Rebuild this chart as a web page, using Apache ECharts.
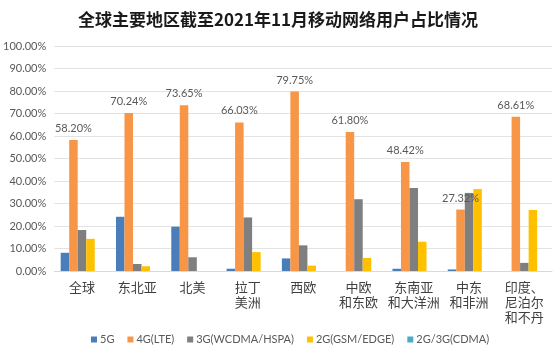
<!DOCTYPE html>
<html>
<head>
<meta charset="utf-8">
<script src="https://cdn.jsdelivr.net/npm/echarts@6/dist/echarts.min.js"></script>
<style>html,body{margin:0;padding:0;background:#fff;}#c{width:556px;height:357px;}</style>
</head>
<body>
<div id="c"></div>
<script>
const categories = ['全球','东北亚','北美','拉丁\n美洲','西欧','中欧\n和东欧','东南亚\n和大洋洲','中东\n和非洲','印度、\n尼泊尔\n和不丹'];
const seriesNames = ['5G','4G(LTE)','3G(WCDMA/HSPA)','2G(GSM/EDGE)','2G/3G(CDMA)'];
const v5G   = [8.1, 24.1, 19.7, 1.0, 5.6, 0, 1.0, 0.7, 0];
const v4G   = [58.20, 70.24, 73.65, 66.03, 79.75, 61.80, 48.42, 27.32, 68.61];
const v3G   = [18.2, 3.1, 6.1, 23.8, 11.4, 31.9, 36.9, 34.7, 3.6];
const v2G   = [14.3, 2.1, 0, 8.4, 2.4, 5.8, 13.0, 36.4, 27.1];
const vCDMA = [0, 0, 0, 0, 0, 0, 0, 0, 0];
const yTicks = [0, 10, 20, 30, 40, 50, 60, 70, 80, 90, 100];

const colors = ['#4a7ebb', '#f79646', '#7f7f7f', '#ffc000', '#4bacc6'];
const allValues = [v5G, v4G, v3G, v2G, vCDMA];

const chart = echarts.init(document.getElementById('c'), null, {renderer: 'canvas'});
chart.setOption({
  animation: false,
  color: colors,
  title: {
    text: '全球主要地区截至2021年11月移动网络用户占比情况',
    left: 'center',
    top: 6,
    textStyle: {fontFamily: 'Noto Sans CJK SC', fontSize: 17, fontWeight: 'bold', color: '#1a1a1a'}
  },
  legend: {
    bottom: 7,
    left: 86,
    itemWidth: 6,
    itemHeight: 6,
    itemGap: 13,
    icon: 'rect',
    textStyle: {fontFamily: 'Lato', fontSize: 11, color: '#595959', padding: [0, 0, 0, -2]},
    data: seriesNames
  },
  grid: {left: 49, right: 4, top: 46, bottom: 86},
  xAxis: {
    type: 'category',
    data: categories,
    axisTick: {show: false},
    axisLine: {lineStyle: {color: '#d9d9d9'}},
    axisLabel: {fontFamily: 'Noto Sans CJK SC', fontSize: 13, color: '#404040', lineHeight: 15, margin: 9, interval: 0}
  },
  yAxis: {
    type: 'value',
    min: yTicks[0],
    max: yTicks[yTicks.length - 1],
    interval: 10,
    axisLine: {show: false},
    axisTick: {show: false},
    splitLine: {lineStyle: {color: '#e3e3e3'}},
    axisLabel: {fontFamily: 'Lato', fontSize: 11, color: '#595959', margin: 8, formatter: v => v.toFixed(2) + '%'}
  },
  series: seriesNames.map((name, i) => ({
    name: name,
    type: 'bar',
    data: allValues[i],
    barGap: '0%',
    barCategoryGap: '23%',
    label: i === 1 ? {
      show: true,
      position: 'top',
      distance: 6,
      fontFamily: 'Lato',
      fontSize: 11,
      color: '#595959',
      formatter: p => p.value.toFixed(2) + '%'
    } : {show: false}
  }))
});
</script>
</body>
</html>
